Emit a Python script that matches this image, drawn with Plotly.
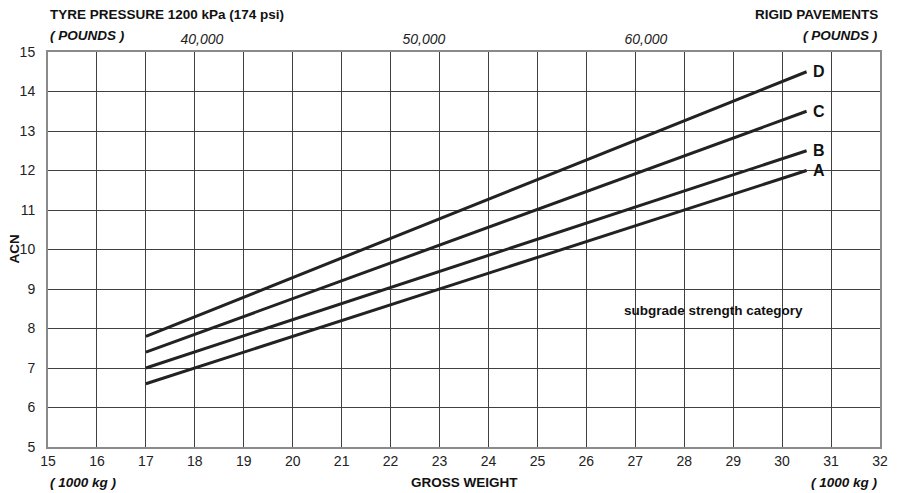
import plotly.graph_objects as go

# gross weight (1000 kg) at start / end of each curve
weight = [17, 30.5]
acn_a = [6.6, 12.0]
acn_b = [7.0, 12.5]
acn_c = [7.4, 13.5]
acn_d = [7.8, 14.5]
curves = {'A': acn_a, 'B': acn_b, 'C': acn_c, 'D': acn_d}

pounds = [40000, 50000, 60000]
pounds_in_t = [p * 0.45359237 / 1000 for p in pounds]

FONT = 'Liberation Sans, Arial, sans-serif'

fig = go.Figure()
for name, acn in curves.items():
    fig.add_trace(go.Scatter(x=weight, y=acn, mode='lines', name=name,
                             line=dict(color='#222222', width=3)))
    fig.add_annotation(x=weight[-1], y=acn[-1], text='<b>%s</b>' % name,
                       showarrow=False, xanchor='left', xshift=4,
                       font=dict(size=16, color='#111'))

# invisible trace for the top (pounds) axis
fig.add_trace(go.Scatter(x=[15, 32], y=[5, 5], xaxis='x2', mode='markers',
                         marker=dict(opacity=0), hoverinfo='skip'))

fig.update_layout(
    width=900, height=493, showlegend=False,
    paper_bgcolor='white', plot_bgcolor='white',
    margin=dict(l=48, r=17, t=52, b=46),
    font=dict(family=FONT, size=14, color='#222'),
    xaxis=dict(range=[15, 32], dtick=1, showgrid=True, gridcolor='#404040',
               gridwidth=1, zeroline=False, showline=True, linecolor='#8a8a8a',
               linewidth=2, mirror=True, ticks='', tickfont=dict(size=14)),
    xaxis2=dict(range=[15, 32], overlaying='x', side='top', tickvals=pounds_in_t,
                ticktext=['<i>{:,}</i>'.format(p) for p in pounds],
                showgrid=False, zeroline=False, showline=False, ticks='',
                tickfont=dict(size=14), ticklabelstandoff=4),
    yaxis=dict(range=[5, 15], dtick=1, showgrid=True, gridcolor='#404040',
               gridwidth=1, zeroline=False, showline=True, linecolor='#8a8a8a',
               linewidth=2, mirror=True, ticks='', tickfont=dict(size=14),
               ticklabelstandoff=8),
)

ann = dict(showarrow=False, xref='paper', yref='paper', font=dict(size=13.5, color='#111'))
fig.add_annotation(x=0, y=1, yshift=38, xanchor='left', yanchor='middle',
                   text='<b>TYRE PRESSURE 1200 kPa (174 psi)</b>', **ann)
fig.add_annotation(x=0, y=1, yshift=17, xanchor='left', yanchor='middle',
                   text='<b><i>( POUNDS )</i></b>', **ann)
fig.add_annotation(x=1, y=1, yshift=38, xanchor='right', yanchor='middle',
                   text='<b>RIGID PAVEMENTS</b>', **ann)
fig.add_annotation(x=1, y=1, yshift=17, xanchor='right', yanchor='middle',
                   text='<b><i>( POUNDS )</i></b>', **ann)
fig.add_annotation(x=0, y=0, yshift=-35, xanchor='left', yanchor='middle',
                   text='<b><i>( 1000 kg )</i></b>', **ann)
fig.add_annotation(x=0.5, y=0, yshift=-35, xanchor='center', yanchor='middle',
                   text='<b>GROSS WEIGHT</b>', **ann)
fig.add_annotation(x=1, y=0, yshift=-35, xanchor='right', yanchor='middle',
                   text='<b><i>( 1000 kg )</i></b>', **ann)
fig.add_annotation(x=0, y=0.5, xshift=-34, xanchor='center', yanchor='middle',
                   textangle=-90, text='<b>ACN</b>', **ann)
fig.add_annotation(x=28.6, y=8.45, xref='x', yref='y', showarrow=False,
                   text='<b>subgrade strength category</b>',
                   font=dict(size=13.5, color='#111'))

fig.write_html("out.html", config={'displayModeBar': False},
               post_script="document.body.style.margin='0';document.body.style.overflow='hidden';")
